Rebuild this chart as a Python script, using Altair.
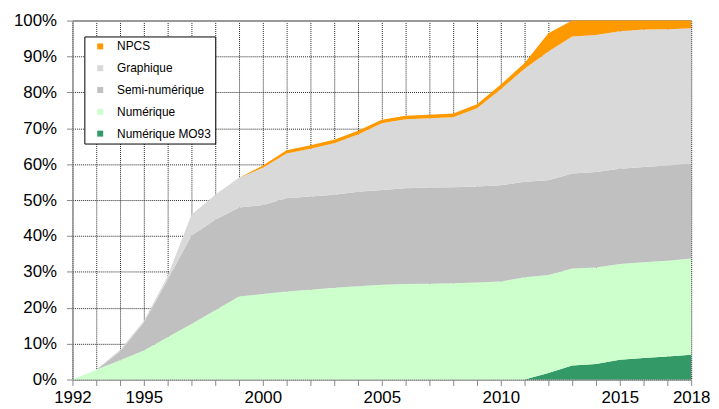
import altair as alt
import pandas as pd

years = list(range(1992, 2019))

# Values per category (percent of total)
mo93 = [0, 0, 0, 0, 0, 0, 0, 0, 0, 0, 0, 0, 0, 0, 0, 0, 0, 0, 0,
        0, 1.8, 3.9, 4.3, 5.5, 6.0, 6.4, 6.9]
numerique = [0, 2.7, 5.4, 8.1, 11.8, 15.5, 19.3, 23.1, 23.8, 24.5, 25.0, 25.6, 26.0, 26.4,
             26.6, 26.7, 26.8, 27.0, 27.3, 28.5, 27.3, 27.0, 26.9, 26.7, 26.7, 26.7, 26.8]
semi_numerique = [0, 0, 2.4, 7.8, 16.0, 24.6, 25.2, 24.8, 24.8, 26.0, 26.0, 25.9, 26.3, 26.4,
                  26.7, 26.8, 26.8, 26.8, 26.8, 26.6, 26.4, 26.5, 26.6, 26.5, 26.5, 26.5, 26.4]
graphique = [0, 0, 0.5, 0.4, 1.0, 5.8, 7.0, 8.3, 10.4, 12.5, 13.3, 14.3, 16.0, 18.6,
             19.2, 19.3, 19.5, 21.8, 26.8, 31.5, 35.9, 38.2, 38.2, 38.3, 38.3, 38.0, 37.8]
npcs = [0, 0, 0, 0, 0, 0, 0, 0, 0.6, 0.9, 1.0, 1.0, 1.0, 1.0,
        1.0, 1.0, 1.0, 1.1, 1.3, 1.6, 5.1, 4.4, 4.0, 3.0, 2.5, 2.4, 2.1]

stack_names = ["Numérique MO93", "Numérique", "Semi-numérique", "Graphique", "NPCS"]
stack_values = [mo93, numerique, semi_numerique, graphique, npcs]

legend_order = ["NPCS", "Graphique", "Semi-numérique", "Numérique", "Numérique MO93"]
legend_colors = ["#FF9900", "#D9D9D9", "#C0C0C0", "#CCFFCC", "#339966"]

x_labels = [1992, 1995, 2000, 2005, 2010, 2015, 2018]
y_ticks = list(range(0, 101, 10))

rows = []
for i, (name, vals) in enumerate(zip(stack_names, stack_values)):
    for yr, v in zip(years, vals):
        rows.append({"year": yr, "serie": name, "value": v, "ord": i})
df = pd.DataFrame(rows)

FONT = "Liberation Sans"

label_test = " || ".join(f"datum.value == {v}" for v in x_labels)

y_axis = alt.Axis(values=y_ticks, title=None,
                  labelExpr="datum.value + '%'",
                  labelOverlap=False, labelFlush=False,
                  labelFontSize=17, labelFont=FONT, labelColor="black",
                  labelPadding=10, tickSize=6, tickColor="#888888",
                  domainColor="#888888",
                  grid=True,
                  gridColor={"condition": {"test": "datum.value === 100", "value": "#999999"},
                             "value": "#222222"},
                  gridDash={"condition": {"test": "datum.value === 100", "value": []},
                            "value": [1, 1]},
                  gridWidth={"condition": {"test": "datum.value === 100", "value": 2},
                             "value": 1})

chart = alt.Chart(df).mark_area(opacity=1, interpolate="linear").encode(
    x=alt.X("year:Q",
            scale=alt.Scale(domain=[1992, 2018], nice=False, zero=False),
            axis=alt.Axis(values=years, format="d", title=None,
                          labelExpr=f"({label_test}) ? datum.label : ''",
                          labelOverlap=False, labelFlush=False,
                          labelFontSize=17, labelFont=FONT,
                          labelColor="black", labelPadding=4,
                          tickSize=6, tickColor="#888888", domainColor="#888888",
                          grid=True, gridColor="#222222", gridDash=[1, 1], gridWidth=1)),
    y=alt.Y("value:Q", stack="zero",
            scale=alt.Scale(domain=[0, 100], nice=False), axis=y_axis),
    color=alt.Color("serie:N",
                    scale=alt.Scale(domain=legend_order, range=legend_colors),
                    legend=alt.Legend(title=None, orient="none", legendX=12, legendY=16,
                                      fillColor="white", strokeColor="black",
                                      padding=4, symbolType="square", symbolSize=36,
                                      symbolStrokeWidth=0, symbolOffset=6,
                                      labelFontSize=12, labelFont=FONT,
                                      labelColor="black", labelOffset=11,
                                      rowPadding=10,
                                      labelExpr="datum.label + '\u00a0\u00a0'")),
    order=alt.Order("ord:Q", sort="ascending"),
).properties(
    width=624, height=362,
    autosize=alt.AutoSizeParams(type="none"),
    padding={"left": 65, "top": 11, "right": 20, "bottom": 26},
).configure_view(stroke=None).configure(background="white")

chart.save("out.html", embed_options={"renderer": "svg", "actions": False})
